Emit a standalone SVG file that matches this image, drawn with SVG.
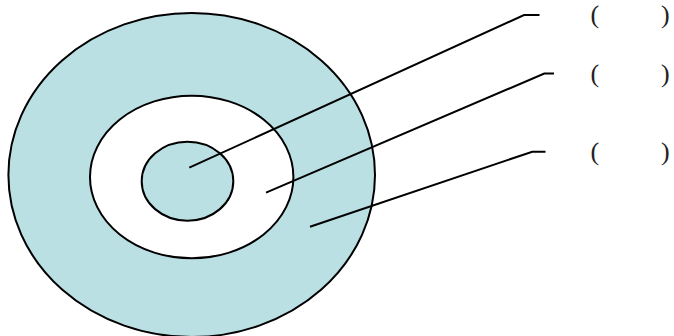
<svg xmlns="http://www.w3.org/2000/svg" width="674" height="336" viewBox="0 0 674 336">
<style>
.ring{stroke:#000;stroke-width:2}
.fill{fill:#bae0e3}
.hole{fill:#fff}
.lead{fill:none;stroke:#000;stroke-width:2}
.lbl{font-family:"Liberation Serif","Times New Roman",serif;font-size:26px;fill:#222}
</style>
<rect width="674" height="336" fill="#fff"/>
<g id="outer"><ellipse class="ring fill" cx="191.7" cy="175" rx="183.3" ry="162"/></g>
<g id="middle"><ellipse class="ring hole" cx="191.7" cy="177" rx="101.7" ry="81.3"/></g>
<g id="inner"><ellipse class="ring fill" cx="187.5" cy="181.2" rx="45.8" ry="39.5"/></g>
<g id="connectors">
<polyline class="lead" points="189.3,167.7 524,15 539.5,15"/>
<polyline class="lead" points="266,192.7 544.3,73.5 554,73.5"/>
<polyline class="lead" points="310,226.7 532.3,151.7 545.5,151.7"/>
</g>
<g id="label1"><text class="lbl" x="590.5 661" y="22.5">()</text></g>
<g id="label2"><text class="lbl" x="590.5 661" y="81.5">()</text></g>
<g id="label3"><text class="lbl" x="590.5 661" y="159.5">()</text></g>
</svg>
